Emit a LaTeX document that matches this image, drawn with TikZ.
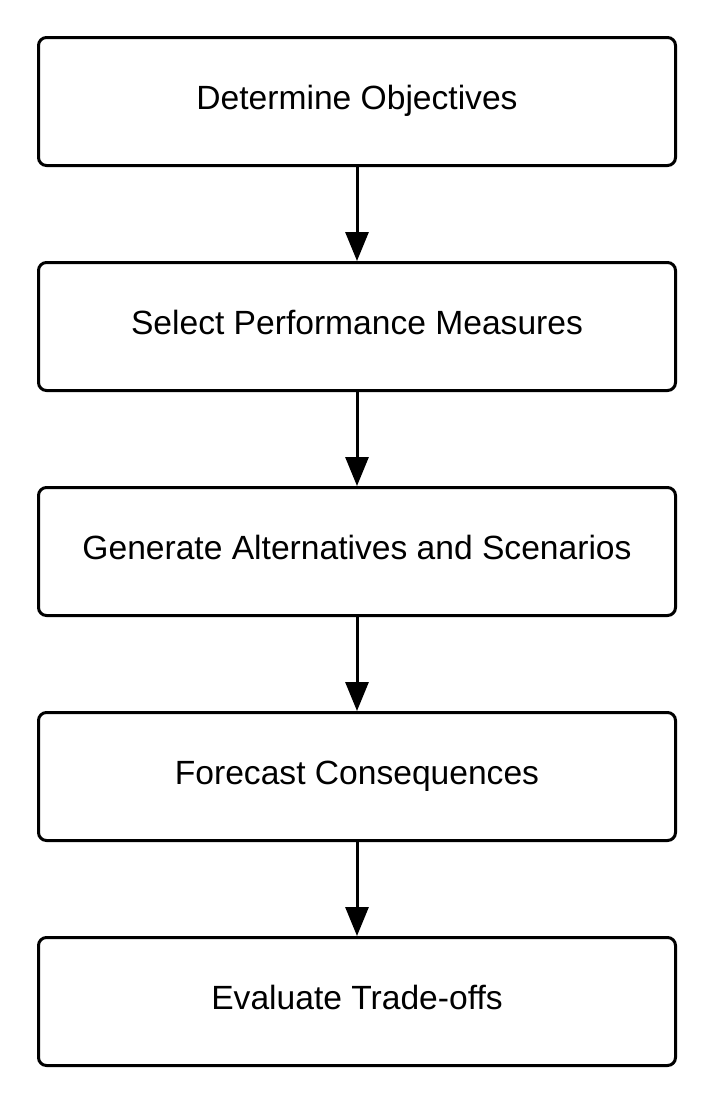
\documentclass[tikz,border=0pt]{standalone}
\usepackage{fontspec}
\setmainfont{Liberation Sans}
\usetikzlibrary{arrows.meta}

\tikzset{
    stepbox/.style={draw, line width=3pt, rounded corners=8pt,
        minimum width=637pt, minimum height=128pt,
        text height=23pt, text depth=8pt,
        font=\fontsize{33.6}{40}\selectfont},
    flow/.style={line width=3pt, -{Triangle[length=29pt,width=23pt]}}
}

\begin{document}
\begin{tikzpicture}[x=1pt, y=1pt]
    \useasboundingbox (0,0) rectangle (713,-1109);
    \node[stepbox] (objectives) at (357,-101.5) {Determine Objectives};
    \node[stepbox] (measures) at (357,-326.5) {Select Performance Measures};
    \node[stepbox] (alternatives) at (357,-551.5) {Generate Alternatives and Scenarios};
    \node[stepbox] (forecast) at (357,-776.5) {Forecast Consequences};
    \node[stepbox] (tradeoffs) at (357,-1001.5) {Evaluate Trade-offs};
    \draw[flow] (objectives) -- (measures);
    \draw[flow] (measures) -- (alternatives);
    \draw[flow] (alternatives) -- (forecast);
    \draw[flow] (forecast) -- (tradeoffs);
\end{tikzpicture}
\end{document}
